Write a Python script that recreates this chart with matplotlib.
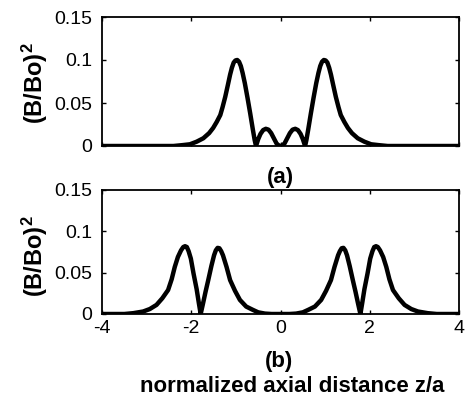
import numpy as np
import matplotlib
matplotlib.use("Agg")
from matplotlib import pyplot as plt

# values, panel (a)
x_a = [-4.0, -3.0, -2.4, -2.2, -2.03, -1.88, -1.73, -1.6, -1.51, -1.43, -1.35, -1.3, -1.24,
       -1.18, -1.13, -1.09, -1.05, -1.01, -0.97, -0.93, -0.89, -0.85, -0.8, -0.74, -0.68,
       -0.62, -0.58, -0.55, -0.5, -0.45, -0.39, -0.33, -0.27, -0.21, -0.15, -0.09, -0.04, 0.0,
       0.04, 0.09, 0.15, 0.21, 0.27, 0.33, 0.39, 0.45, 0.5, 0.55, 0.58, 0.62, 0.68, 0.74,
       0.8, 0.85, 0.89, 0.93, 0.97, 1.01, 1.05, 1.09, 1.13, 1.18, 1.24, 1.3, 1.35, 1.43,
       1.51, 1.6, 1.73, 1.88, 2.03, 2.2, 2.4, 3.0, 4.0]
y_a = [0.0, 0.0, 0.0, 0.001, 0.002, 0.005, 0.009, 0.015, 0.021, 0.028, 0.036, 0.045, 0.057,
       0.071, 0.083, 0.091, 0.097, 0.0995, 0.100, 0.098, 0.093, 0.085, 0.073, 0.056, 0.038,
       0.019, 0.007, 0.0, 0.008, 0.014, 0.0185, 0.020, 0.019, 0.015, 0.009, 0.003, 0.0005, 0.0,
       0.0005, 0.003, 0.009, 0.015, 0.019, 0.020, 0.0185, 0.014, 0.008, 0.0, 0.007, 0.019, 0.038, 0.056,
       0.073, 0.085, 0.093, 0.098, 0.100, 0.0995, 0.097, 0.091, 0.083, 0.071, 0.057, 0.045, 0.036, 0.028,
       0.021, 0.015, 0.009, 0.005, 0.002, 0.001, 0.0, 0.0, 0.0]

# panel (b)
x_b = [-4.0, -3.5, -3.3, -3.08, -2.93, -2.78, -2.65, -2.52, -2.44, -2.37, -2.3, -2.23, -2.18,
       -2.14, -2.1, -2.06, -2.01, -1.95, -1.88, -1.83, -1.79, -1.74, -1.68, -1.62, -1.55, -1.49,
       -1.45, -1.41, -1.37, -1.33, -1.29, -1.21, -1.13, -1.02, -0.91, -0.77, -0.62, -0.5, -0.35,
       -0.2, 0.0,
       0.2, 0.35, 0.5, 0.62, 0.77, 0.91, 1.02, 1.13, 1.21, 1.29, 1.33, 1.37, 1.41, 1.45,
       1.49, 1.55, 1.62, 1.68, 1.74, 1.79, 1.83, 1.88, 1.95, 2.01, 2.06, 2.1, 2.14, 2.18,
       2.23, 2.3, 2.37, 2.44, 2.52, 2.65, 2.78, 2.93, 3.08, 3.3, 3.5, 4.0]
y_b = [0.0, 0.0, 0.001, 0.003, 0.006, 0.011, 0.019, 0.029, 0.042, 0.057, 0.069, 0.077, 0.081,
       0.082, 0.081, 0.076, 0.067, 0.049, 0.030, 0.013, 0.0, 0.012, 0.027, 0.041, 0.058, 0.071,
       0.077, 0.080, 0.0795, 0.076, 0.071, 0.057, 0.041, 0.028, 0.017, 0.009, 0.005, 0.002, 0.0005,
       0.0, 0.0,
       0.0, 0.0005, 0.002, 0.005, 0.009, 0.017, 0.028, 0.041, 0.057, 0.071, 0.076, 0.0795, 0.080, 0.077,
       0.071, 0.058, 0.041, 0.027, 0.012, 0.0, 0.013, 0.030, 0.049, 0.067, 0.076, 0.081, 0.082, 0.081,
       0.077, 0.069, 0.057, 0.042, 0.029, 0.019, 0.011, 0.006, 0.003, 0.001, 0.0, 0.0]

xticks = [-4, -2, 0, 2, 4]
yticks = [0, 0.05, 0.1, 0.15]
yticklabels = ["0", "0.05", "0.1", "0.15"]
ylab = r'$\mathbf{(B/Bo)^2}$'

plt.rcParams['font.family'] = ['Liberation Sans', 'DejaVu Sans']
plt.rcParams['axes.unicode_minus'] = False
plt.rcParams['mathtext.fontset'] = 'custom'
plt.rcParams['mathtext.bf'] = 'Liberation Sans:bold'
plt.rcParams['mathtext.rm'] = 'Liberation Sans'

fig = plt.figure(figsize=(4.66, 4.0), dpi=100)
ax1 = fig.add_axes([0.219, 0.635, 0.766, 0.3225])
ax2 = fig.add_axes([0.219, 0.215, 0.766, 0.31])

for ax, xs, ys in [(ax1, x_a, y_a), (ax2, x_b, y_b)]:
    ax.plot(xs, ys, color='black', linewidth=3.2, solid_joinstyle='round', solid_capstyle='round')
    ax.set_xlim(-4, 4)
    ax.set_ylim(0, 0.15)
    ax.set_xticks(xticks)
    ax.set_yticks(yticks)
    ax.set_yticklabels(yticklabels)
    ax.tick_params(direction='in', length=3, width=1, labelsize=14, top=True, right=True)
    ax.tick_params(axis='y', pad=7)
    ax.tick_params(axis='x', pad=4)
    for s in ax.spines.values():
        s.set_linewidth(1.3)
    ax.patch.set_visible(False)

ax1.set_xticklabels([])

fig.text(0.075, 0.793, ylab, fontsize=17, rotation=90, ha='center', va='center')
fig.text(0.075, 0.36, ylab, fontsize=17, rotation=90, ha='center', va='center')
fig.text(0.601, 0.5575, '(a)', fontsize=16, fontweight='bold', ha='center', va='center')
fig.text(0.598, 0.095, '(b)', fontsize=16, fontweight='bold', ha='center', va='center')
fig.text(0.628, 0.034, 'normalized axial distance z/a', fontsize=16, fontweight='bold',
         ha='center', va='center')

fig.savefig('out.png', dpi=100)
